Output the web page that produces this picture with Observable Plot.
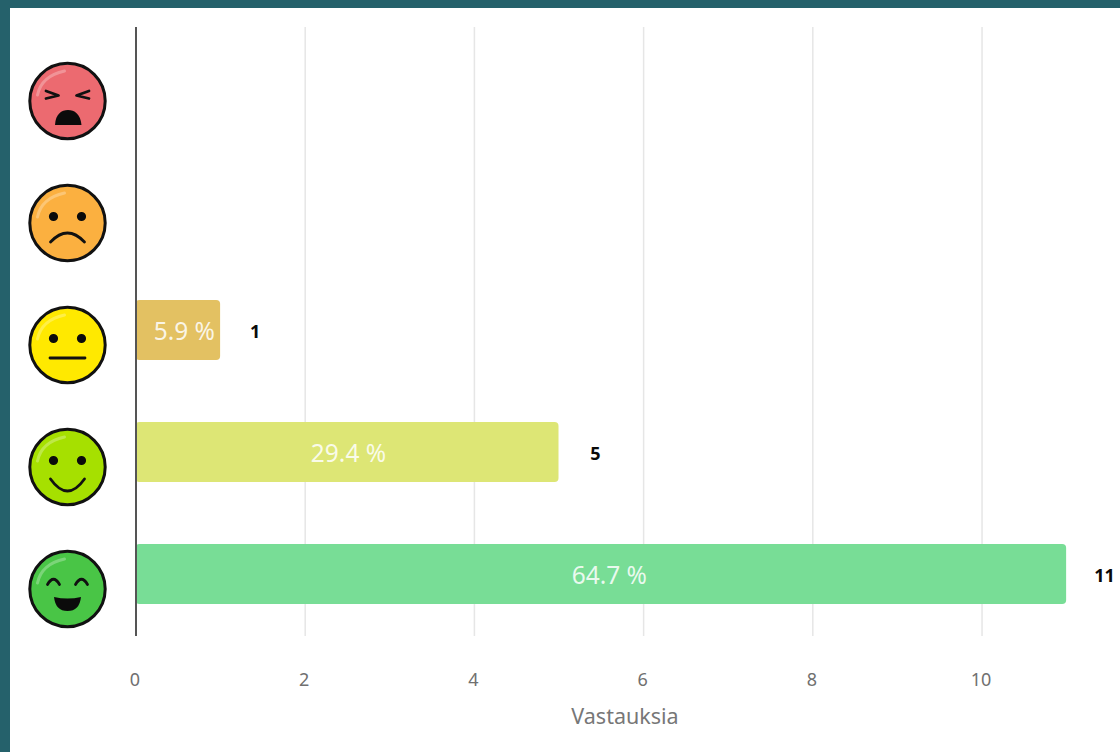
<!DOCTYPE html>
<html>
<head>
<meta charset="utf-8">
<script src="https://cdn.jsdelivr.net/npm/d3@7"></script>
<script src="https://cdn.jsdelivr.net/npm/@observablehq/plot@0.6"></script>
<style>
html,body{margin:0;padding:0;background:#25616b;width:1120px;height:752px;overflow:hidden}
#chart{position:absolute;left:10px;top:8px;width:1110px;height:744px;background:#fff}
svg{display:block}
</style>
</head>
<body>
<div id="chart"></div>
<script>
const categories = ["angry", "sad", "neutral", "smile", "happy"];
const counts = [0, 0, 1, 5, 11];
const percents = ["", "", "5.9 %", "29.4 %", "64.7 %"];
const barColors = ["#ee6c72", "#fbb03b", "#e3c162", "#dde675", "#78dd96"];
const faceColors = ["#ec6a70", "#fbb040", "#ffe900", "#a6e000", "#49c546"];
const xTicks = [0, 2, 4, 6, 8, 10];
const xLabel = "Vastauksia";

const rows = categories.map((c, i) => ({category: c, count: counts[i], percent: percents[i], color: barColors[i], face: faceColors[i]}));
const filled = rows.filter(d => d.count > 0);
const font = "'Noto Sans', sans-serif";

// Face features are custom symbols for Plot.dot, anchored on each category's band.
const glyph = draw => ({draw});
const eye = (x, y) => c => { c.moveTo(x + 4.6, y); c.arc(x, y, 4.6, 0, 2 * Math.PI); };
const roundEyes = c => { eye(-14, -6.5)(c); eye(14, -6.5)(c); };
const shapes = {
  angry: {
    solid: c => { c.moveTo(-12.5, 24); c.bezierCurveTo(-12, 13, -6, 9, 0.5, 9); c.bezierCurveTo(7, 9, 13, 13, 14, 24); c.closePath(); },
    line: c => { c.moveTo(-21.5, -10); c.lineTo(-9, -5.5); c.lineTo(-21.5, -2.5); c.moveTo(21.5, -10); c.lineTo(9, -5.5); c.lineTo(21.5, -2.5); }
  },
  sad: {
    solid: roundEyes,
    line: c => { c.moveTo(-17, 19); c.quadraticCurveTo(0, 1, 17, 19); }
  },
  neutral: {
    solid: roundEyes,
    line: c => { c.moveTo(-17.5, 13); c.lineTo(17.5, 13); }
  },
  smile: {
    solid: roundEyes,
    line: c => { c.moveTo(-17, 12); c.quadraticCurveTo(0, 36, 17, 12); }
  },
  happy: {
    solid: c => { c.moveTo(-13.5, 8); c.quadraticCurveTo(0, 11, 13.5, 8); c.quadraticCurveTo(12, 22, 0, 22); c.quadraticCurveTo(-12, 22, -13.5, 8); c.closePath(); },
    line: c => { c.moveTo(-20, -4.5); c.quadraticCurveTo(-14, -15, -8, -4.5); c.moveTo(8, -4.5); c.quadraticCurveTo(14, -15, 20, -4.5); }
  }
};
const highlight = glyph(c => { c.moveTo(-30, -6); c.quadraticCurveTo(-26, -25, -3, -30); });
const faceAnchor = {x: () => 0, y: "category", dx: -68.5, dy: 14.5};

const faceMarks = rows.flatMap(d => [
  Plot.dot([d], {...faceAnchor, r: 37.7, fill: d.face, stroke: "#111", strokeWidth: 3}),
  Plot.dot([d], {...faceAnchor, symbol: highlight, fill: "none", stroke: "#fff", strokeOpacity: 0.28, strokeWidth: 3, strokeLinecap: "round"}),
  Plot.dot([d], {...faceAnchor, symbol: glyph(shapes[d.category].solid), fill: "#0b0b0b", stroke: "none"}),
  Plot.dot([d], {...faceAnchor, symbol: glyph(shapes[d.category].line), fill: "none", stroke: "#111", strokeWidth: 2.8, strokeLinecap: "round", strokeLinejoin: "round"})
]);

const percentDx = {neutral: 6, smile: 1, happy: 8};
const percentMarks = filled.map(d => Plot.text([d], {
  x: r => r.count / 2, y: "category", text: "percent", dx: percentDx[d.category], dy: 1.5,
  fill: "#fff", fillOpacity: 0.85, fontSize: 24.5, fontFamily: font
}));
const countDx = {neutral: 34.5, smile: 36.5, happy: 38};
const countMarks = filled.map(d => Plot.text([d], {
  x: "count", y: "category", text: "count", dx: countDx[d.category], dy: 1.5,
  fill: "#0a0a0a", fontWeight: 700, fontSize: 18, fontFamily: font
}));

const chart = Plot.plot({
  width: 1110,
  height: 744,
  marginLeft: 125.5,
  marginRight: 6.5,
  marginTop: 19,
  marginBottom: 116,
  style: {background: "#fff", fontFamily: font, overflow: "visible"},
  x: {domain: [0, 11.56], ticks: xTicks},
  y: {domain: categories, range: [17, 627], paddingInner: 0.51, paddingOuter: 0.25, axis: null},
  marks: [
    Plot.ruleX(xTicks.filter(t => t > 0), {stroke: "#e6e6e6", strokeWidth: 1.5}),
    Plot.barX(filled, {x: "count", y: "category", fill: "color", rx: 4}),
    Plot.ruleX([0], {stroke: "#555", strokeWidth: 2}),
    ...percentMarks,
    ...countMarks,
    Plot.axisX({ticks: xTicks, label: null, tickSize: 0, tickPadding: 37, fontSize: 18, fill: "#707070", dx: -1, fontFamily: font}),
    Plot.text([xLabel], {frameAnchor: "bottom", dy: 87, fill: "#777", fontSize: 21.5, fontFamily: font}),
    ...faceMarks
  ]
});
document.getElementById("chart").append(chart);
</script>
</body>
</html>
